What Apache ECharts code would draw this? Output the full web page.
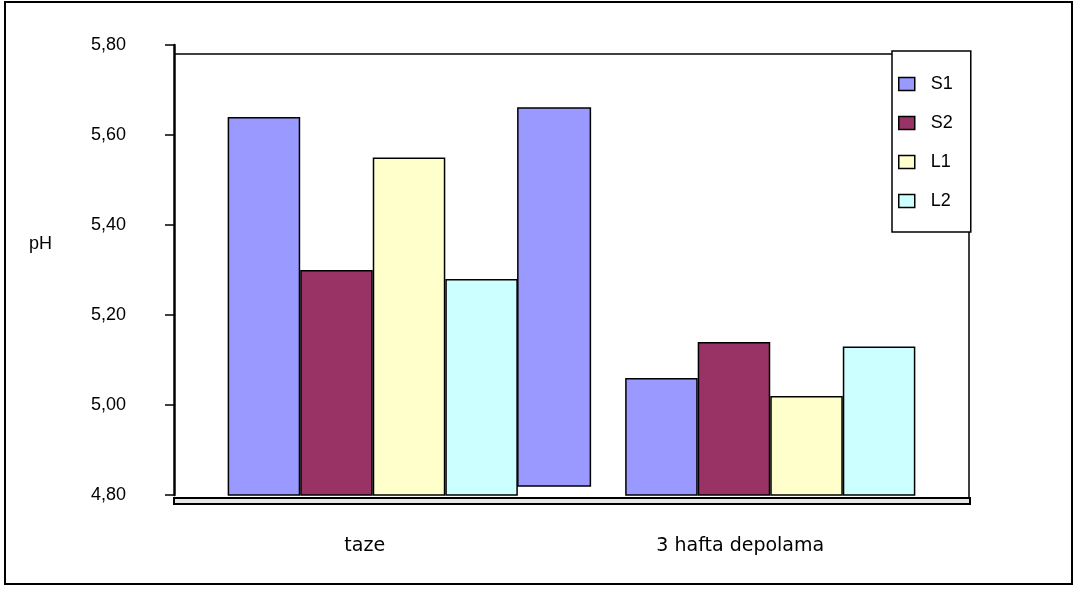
<!DOCTYPE html>
<html>
<head>
<meta charset="utf-8">
<script src="https://cdn.jsdelivr.net/npm/echarts@6/dist/echarts.min.js"></script>
<style>
  html, body { margin: 0; padding: 0; background: #fff; }
  #chart { width: 1077px; height: 590px; }
</style>
</head>
<body>
<div id="chart"></div>
<script>
// pH of the samples, fresh and after 3 weeks of storage
const categories = ['taze', '3 hafta depolama'];
const seriesNames = ['S1', 'S2', 'L1', 'L2'];
const S1 = [5.64, 5.06];
const S2 = [5.30, 5.14];
const L1 = [5.55, 5.02];
const L2 = [5.28, 5.13];
// additional S1 bar beside the "taze" group: [category index, low, high]
const extraS1 = [[0, 4.82, 5.66]];
const yTickLabels = ['4,80', '5,00', '5,20', '5,40', '5,60', '5,80'];

const colors = { S1: '#9999FF', S2: '#993366', L1: '#FFFFCC', L2: '#CCFFFF' };
const values = { S1, S2, L1, L2 };

const CATEGORY_GAP = 0.27;
const TXT = '#000';
const FONT = 'Liberation Sans, Arial, sans-serif';

const chart = echarts.init(document.getElementById('chart'), null, { renderer: 'canvas' });

const barSeries = seriesNames.map(name => ({
  name,
  type: 'bar',
  data: values[name],
  barGap: '0%',
  barCategoryGap: (CATEGORY_GAP * 100) + '%',
  itemStyle: { color: colors[name], borderColor: '#000', borderWidth: 1.5 },
  emphasis: { disabled: true }
}));

const extraSeries = {
  name: 'S1',
  type: 'custom',
  data: extraS1,
  encode: { x: 0, y: [1, 2] },
  z: 3,
  renderItem(params, api) {
    const cat = api.value(0);
    const lo = api.value(1);
    const hi = api.value(2);
    const band = api.size([1, 0])[0];
    const barW = band * (1 - CATEGORY_GAP) / seriesNames.length;
    const pLo = api.coord([cat, lo]);
    const pHi = api.coord([cat, hi]);
    // fifth slot, right after the four grouped bars
    const x0 = pLo[0] - barW * seriesNames.length / 2 + barW * seriesNames.length;
    return {
      type: 'rect',
      shape: { x: x0, y: pHi[1], width: barW, height: pLo[1] - pHi[1] },
      style: { fill: colors.S1, stroke: '#000', lineWidth: 1.5 }
    };
  }
};

chart.setOption({
  animation: false,
  backgroundColor: '#fff',
  grid: { left: 174, right: 108, top: 45, bottom: 95, containLabel: false },
  legend: {
    data: seriesNames,
    orient: 'vertical',
    left: 892,
    top: 51,
    itemWidth: 16,
    itemHeight: 13,
    itemGap: 21,
    padding: [24, 18, 22, 6],
    backgroundColor: '#fff',
    borderColor: '#000',
    borderWidth: 1.5,
    borderRadius: 0,
    icon: 'rect',
    itemStyle: { borderColor: '#000', borderWidth: 1.5 },
    textStyle: { fontFamily: FONT, fontSize: 18, color: TXT, padding: [0, 0, 0, 11] },
    selectedMode: false,
    z: 10
  },
  xAxis: {
    type: 'category',
    data: categories,
    offset: 9,
    axisLine: { show: false },
    axisTick: { show: true, inside: true, length: 6, lineStyle: { color: '#000', width: 1.5 } },
    axisLabel: {
      margin: 33,
      fontFamily: 'DejaVu Sans, sans-serif',
      fontSize: 19,
      color: TXT,
      // labels sit a little left of the category centres
      formatter: (v, i) => '{c' + i + '|' + v + '}',
      rich: {
        c0: { fontFamily: 'DejaVu Sans, sans-serif', fontSize: 19, color: TXT, padding: [0, 16, 0, 0] },
        c1: { fontFamily: 'DejaVu Sans, sans-serif', fontSize: 19, color: TXT, padding: [0, 60, 0, 0] }
      }
    },
    splitLine: { show: false }
  },
  yAxis: {
    type: 'value',
    min: 4.8,
    max: 5.8,
    interval: 0.2,
    axisLine: { show: true, lineStyle: { color: '#000', width: 2.5 } },
    axisTick: { show: true, length: 9, lineStyle: { color: '#000', width: 1.5 } },
    axisLabel: {
      margin: 48,
      fontFamily: FONT,
      fontSize: 18,
      color: TXT,
      formatter: v => yTickLabels[Math.round((v - 4.8) / 0.2)]
    },
    splitLine: { show: false }
  },
  graphic: [
    // outer frame
    { type: 'rect', shape: { x: 5, y: 2, width: 1067, height: 582 }, style: { fill: 'none', stroke: '#000', lineWidth: 2 }, z: 0 },
    // plot area border (top and right)
    { type: 'polyline', shape: { points: [[174, 54], [969, 54], [969, 498]] }, style: { fill: 'none', stroke: '#000', lineWidth: 1.5 }, z: 1 },
    // floor under the bars
    { type: 'rect', shape: { x: 174, y: 498, width: 796, height: 6 }, style: { fill: '#e6e6e6', stroke: '#000', lineWidth: 2 }, z: 5 },
    // axis title
    { type: 'text', left: 29, top: 235, style: { text: 'pH', font: '18px ' + FONT, fill: TXT }, z: 5 }
  ],
  series: barSeries.concat([extraSeries])
});
</script>
</body>
</html>
